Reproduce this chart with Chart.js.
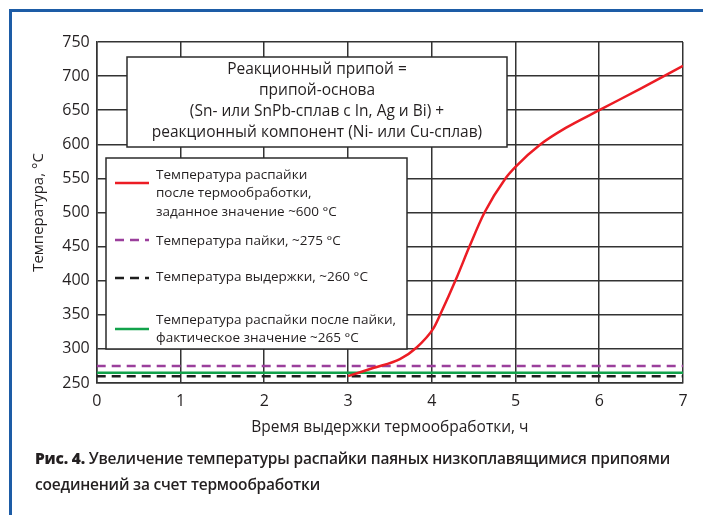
<!DOCTYPE html>
<html lang="ru">
<head>
<meta charset="utf-8">
<script src="https://cdn.jsdelivr.net/npm/chart.js@4/dist/chart.umd.min.js"></script>
<style>
  html, body { margin: 0; padding: 0; background: #fff; }
  #wrap { position: relative; width: 703px; height: 515px; overflow: hidden; }
  #frame { position: absolute; left: 9px; top: 9px; width: 720px; height: 540px;
           border-left: 3px solid #1d5ca6; border-top: 3px solid #1d5ca6; box-sizing: border-box; }
  canvas { position: absolute; left: 0; top: 0; }
  .cap { position: absolute; left: 35px; font-family: "Open Sans", sans-serif; font-weight: 600;
         font-size: 15.5px; color: #231f20; white-space: nowrap; letter-spacing: -0.2px; }
  .cap b { font-weight: 800; }
</style>
</head>
<body>
<div id="wrap">
  <div id="frame"></div>
  <canvas id="c" width="703" height="515"></canvas>
  <div class="cap" style="top:447px"><b>Рис. 4.</b> Увеличение температуры распайки паяных низкоплавящимися припоями</div>
  <div class="cap" style="top:473px">соединений за счет термообработки</div>
</div>
<script>
// Время выдержки, ч, и температура распайки после термообработки, °C
const hours = [3, 3.3, 3.62, 3.82, 4.02, 4.1, 4.3, 4.45, 4.63, 4.88, 5, 5.3, 5.6, 6, 6.5, 7];
const debondTemp = [260, 272, 285, 302, 330, 350, 405, 450, 500, 550, 567, 600, 624, 650, 682, 715];

// Постоянные уровни, °C
const spanHours = [0, 7];
const solderTemp = 275;
const holdTemp = 260;
const actualDebondTemp = 265;

const xTicks = [0, 1, 2, 3, 4, 5, 6, 7];
const yTicks = [250, 300, 350, 400, 450, 500, 550, 600, 650, 700, 750];

const seriesLabels = [
  'Температура распайки\nпосле термообработки,\nзаданное значение ~600 °C',
  'Температура пайки, ~275 °C',
  'Температура выдержки, ~260 °C',
  'Температура распайки после пайки,\nфактическое значение ~265 °C'
];

const noteLines = [
  'Реакционный припой =',
  'припой-основа',
  '(Sn- или SnPb-сплав с In, Ag и Bi) +',
  'реакционный компонент (Ni- или Cu-сплав)'
];

const FONT = '"Open Sans", sans-serif';
const TEXT = '#231f20';

const flat = v => spanHours.map(h => ({ x: h, y: v }));

// Поле с пояснением и легенда внутри области построения
const boxesPlugin = {
  id: 'boxes',
  afterDatasetsDraw(chart) {
    const ctx = chart.ctx;
    ctx.save();
    // пояснение
    ctx.fillStyle = '#fff';
    ctx.strokeStyle = '#2b2b2b';
    ctx.lineWidth = 1.5;
    ctx.fillRect(127, 57, 380, 90);
    ctx.strokeRect(127, 57, 380, 90);
    ctx.fillStyle = TEXT;
    ctx.font = '15.5px ' + FONT;
    ctx.textAlign = 'center';
    ctx.textBaseline = 'middle';
    noteLines.forEach((t, i) => ctx.fillText(t, 317, 70 + i * 21));

    // легенда
    ctx.fillStyle = '#fff';
    ctx.fillRect(106, 158, 301, 191);
    ctx.strokeRect(106, 158, 301, 191);
    const layout = [
      { sample: 183, first: 175 },
      { sample: 240, first: 241 },
      { sample: 278, first: 277 },
      { sample: 329, first: 320 }
    ];
    ctx.textAlign = 'left';
    ctx.font = '13.5px ' + FONT;
    chart.data.datasets.forEach((ds, i) => {
      const L = layout[i];
      ctx.save();
      ctx.strokeStyle = ds.borderColor;
      ctx.lineWidth = ds.borderWidth;
      ctx.setLineDash(ds.borderDash || []);
      ctx.beginPath();
      ctx.moveTo(115, L.sample);
      ctx.lineTo(149, L.sample);
      ctx.stroke();
      ctx.restore();
      ctx.fillStyle = TEXT;
      ds.label.split('\n').forEach((t, j) => ctx.fillText(t, 156, L.first + j * 18.5));
    });
    ctx.restore();
  }
};

new Chart(document.getElementById('c'), {
  type: 'scatter',
  data: {
    datasets: [
      { label: seriesLabels[0], data: hours.map((h, i) => ({ x: h, y: debondTemp[i] })),
        showLine: true, borderColor: '#ec1c24', borderWidth: 2.5, pointRadius: 0,
        cubicInterpolationMode: 'monotone', order: 0 },
      { label: seriesLabels[1], data: flat(solderTemp), showLine: true, borderColor: '#9b3f9c',
        borderWidth: 2.5, borderDash: [9, 6], pointRadius: 0, order: 3 },
      { label: seriesLabels[2], data: flat(holdTemp), showLine: true, borderColor: '#1e1e1e',
        borderWidth: 2.5, borderDash: [9, 6], pointRadius: 0, order: 2 },
      { label: seriesLabels[3], data: flat(actualDebondTemp), showLine: true, borderColor: '#12a24b',
        borderWidth: 2.5, pointRadius: 0, order: 1 }
    ]
  },
  options: {
    responsive: false,
    animation: false,
    events: [],
    layout: { padding: { left: 30, right: 20, top: 42, bottom: 74 } },
    plugins: { legend: { display: false }, tooltip: { enabled: false } },
    scales: {
      x: {
        type: 'linear', min: 0, max: 7,
        afterBuildTicks: s => { s.ticks = xTicks.map(v => ({ value: v })); },
        afterFit: s => { s.height = 58; },
        grid: { color: '#333', lineWidth: 1.5, drawTicks: false },
        border: { color: '#333', width: 1.5 },
        ticks: { color: TEXT, font: { family: FONT, size: 16 }, padding: 9, maxRotation: 0 },
        title: { display: true, text: 'Время выдержки термообработки, ч', color: TEXT,
                 font: { family: FONT, size: 15.5 }, padding: { top: 0, bottom: 4 } }
      },
      y: {
        type: 'linear', min: 250, max: 750,
        afterBuildTicks: s => { s.ticks = yTicks.map(v => ({ value: v })); },
        afterFit: s => { s.width = 66.7; },
        grid: { color: '#333', lineWidth: 1.5, drawTicks: false },
        border: { color: '#333', width: 1.5 },
        ticks: { color: TEXT, font: { family: FONT, size: 16 }, padding: 7 },
        title: { display: true, text: 'Температура, °C', color: TEXT,
                 font: { family: FONT, size: 15 }, padding: 0 }
      }
    }
  },
  plugins: [boxesPlugin]
});
</script>
</body>
</html>
